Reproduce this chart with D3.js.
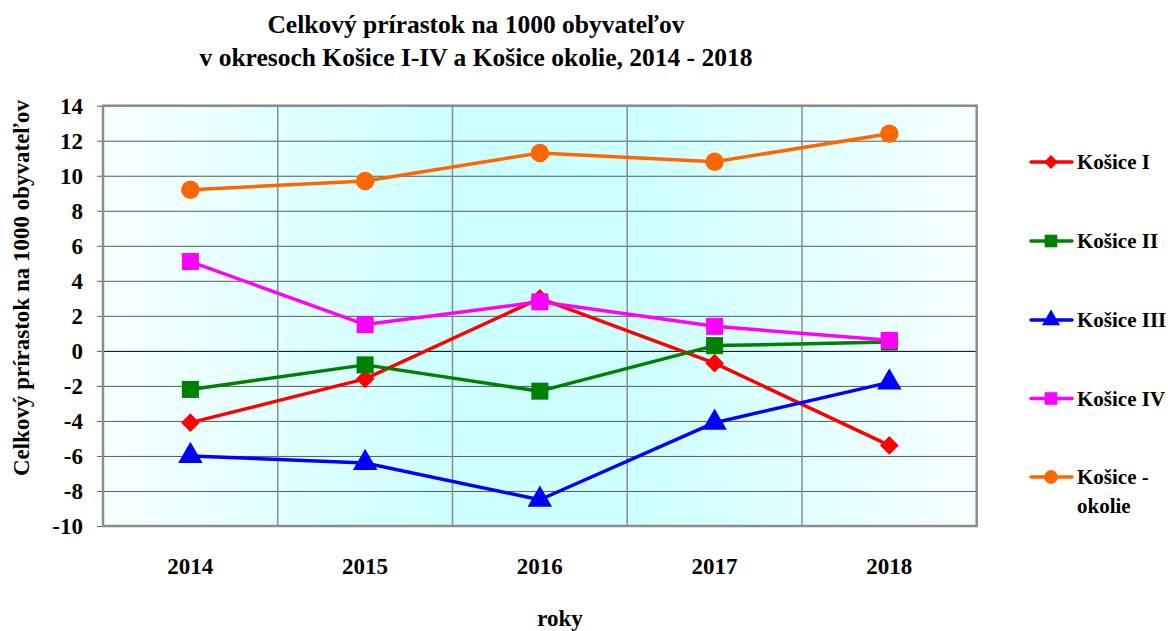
<!DOCTYPE html>
<html>
<head>
<meta charset="utf-8">
<script src="https://cdn.jsdelivr.net/npm/d3@7"></script>
<style>
  body { margin: 0; background: #fff; }
  svg text { font-family: "Liberation Serif", "Times New Roman", serif; font-weight: bold; fill: #000; }
</style>
</head>
<body>
<svg id="chart" width="1168" height="631"></svg>
<script>
const years = ["2014", "2015", "2016", "2017", "2018"];
const seriesNames = ["Košice I", "Košice II", "Košice III", "Košice IV", "Košice - okolie"];
const kosice1 = [-4.1, -1.6, 3.0, -0.7, -5.4];
const kosice2 = [-2.2, -0.8, -2.3, 0.3, 0.5];
const kosice3 = [-6.0, -6.4, -8.5, -4.1, -1.8];
const kosice4 = [5.1, 1.5, 2.8, 1.4, 0.6];
const okolie = [9.2, 9.7, 11.3, 10.8, 12.4];
const yTicks = [-10, -8, -6, -4, -2, 0, 2, 4, 6, 8, 10, 12, 14];

const colors = ["#ff0000", "#008000", "#0000ff", "#ff00ff", "#ff6600"];
// diamond = square turned 45 degrees
const symbols = [d3.symbolSquare, d3.symbolSquare, d3.symbolTriangle, d3.symbolSquare, d3.symbolCircle];
const symSizes = [175, 290, 260, 290, 270];
const symRotate = [45, 0, 0, 0, 0];

const series = [kosice1, kosice2, kosice3, kosice4, okolie].map((vals, i) => ({
  name: seriesNames[i], color: colors[i], symbol: symbols[i], size: symSizes[i], rot: symRotate[i],
  values: vals.map((v, j) => ({ year: years[j], value: v }))
}));

const margin = { top: 105.7, left: 103, right: 976.7, bottom: 526 };
const width = margin.right - margin.left;
const height = margin.bottom - margin.top;

const svg = d3.select("#chart");

// background gradient
const defs = svg.append("defs");
const grad = defs.append("linearGradient").attr("id", "bg").attr("x1", "0%").attr("x2", "100%");
[[0, "#f6ffff"], [0.4, "#ccffff"], [0.6, "#ccffff"], [1, "#f6ffff"]].forEach(([o, c]) =>
  grad.append("stop").attr("offset", o).attr("stop-color", c));

const g = svg.append("g").attr("transform", `translate(${margin.left},${margin.top})`);

const x = d3.scaleBand().domain(years).range([0, width]);
const y = d3.scaleLinear().domain([-10, 14]).range([height, 0]);

g.append("rect").attr("width", width).attr("height", height).attr("fill", "url(#bg)");

// horizontal gridlines
g.append("g")
  .call(d3.axisLeft(y).tickValues(yTicks).tickSize(-width).tickFormat(""))
  .call(s => s.select(".domain").remove())
  .call(s => s.selectAll("line").attr("stroke", d => d === 0 ? "#000" : "#5a5a5a").attr("stroke-width", 1));

// vertical lines between categories
g.append("g").selectAll("line")
  .data(years.slice(1))
  .join("line")
  .attr("x1", d => x(d)).attr("x2", d => x(d))
  .attr("y1", 0).attr("y2", height)
  .attr("stroke", "#8c8c8c").attr("stroke-width", 1.5);

// y axis
g.append("g")
  .call(d3.axisLeft(y).tickValues(yTicks).tickSize(6).tickPadding(14).tickFormat(d => String(d)))
  .call(s => s.select(".domain").remove())
  .call(s => s.selectAll("line").attr("stroke", "#5a5a5a"))
  .call(s => s.selectAll("text").style("font-size", "23px").style("font-family", "Liberation Serif").style("font-weight", "bold"));

// plot border
g.append("rect").attr("width", width).attr("height", height)
  .attr("fill", "none").attr("stroke", "#8c8c8c").attr("stroke-width", 2.5);

// x labels
g.append("g").selectAll("text")
  .data(years)
  .join("text")
  .attr("x", d => x(d) + x.bandwidth() / 2)
  .attr("y", height + 48)
  .attr("text-anchor", "middle")
  .style("font-size", "23px")
  .text(d => d);

const line = d3.line().x(d => x(d.year) + x.bandwidth() / 2).y(d => y(d.value));

series.forEach(s => {
  const sg = g.append("g");
  sg.append("path").datum(s.values)
    .attr("d", line).attr("fill", "none")
    .attr("stroke", s.color).attr("stroke-width", 3.5).attr("stroke-linejoin", "round");
  sg.selectAll("path.m").data(s.values).join("path").attr("class", "m")
    .attr("transform", d => `translate(${x(d.year) + x.bandwidth() / 2},${y(d.value)}) rotate(${s.rot})`)
    .attr("d", d3.symbol(s.symbol, s.size)())
    .attr("fill", s.color);
});

// titles
svg.append("text").attr("x", 476).attr("y", 33).attr("text-anchor", "middle")
  .style("font-size", "25.5px").text("Celkový prírastok na 1000 obyvateľov");
svg.append("text").attr("x", 476).attr("y", 66).attr("text-anchor", "middle")
  .style("font-size", "25.5px").text("v okresoch Košice I-IV a Košice okolie, 2014 - 2018");
svg.append("text").attr("transform", "translate(29,288) rotate(-90)").attr("text-anchor", "middle")
  .style("font-size", "23px").text("Celkový prírastok na 1000 obyvateľov");
svg.append("text").attr("x", 560).attr("y", 626).attr("text-anchor", "middle")
  .style("font-size", "23px").text("roky");

// legend
const legendY = [162, 241, 320, 398.5, 477];
const lg = svg.append("g");
series.forEach((s, i) => {
  const row = lg.append("g").attr("transform", `translate(0,${legendY[i]})`);
  row.append("line").attr("x1", 1031).attr("x2", 1072).attr("stroke", s.color)
    .attr("stroke-width", 3.5).attr("stroke-linecap", "round");
  row.append("path").attr("transform", `translate(1051,0) rotate(${s.rot})`)
    .attr("d", d3.symbol(s.symbol, s.size * 0.55)()).attr("fill", s.color);
  const words = s.name === "Košice - okolie" ? ["Košice -", "okolie"] : [s.name];
  words.forEach((w, k) => row.append("text").attr("x", 1077).attr("y", 7 + k * 29)
    .style("font-size", "21px").text(w));
});
</script>
</body>
</html>
